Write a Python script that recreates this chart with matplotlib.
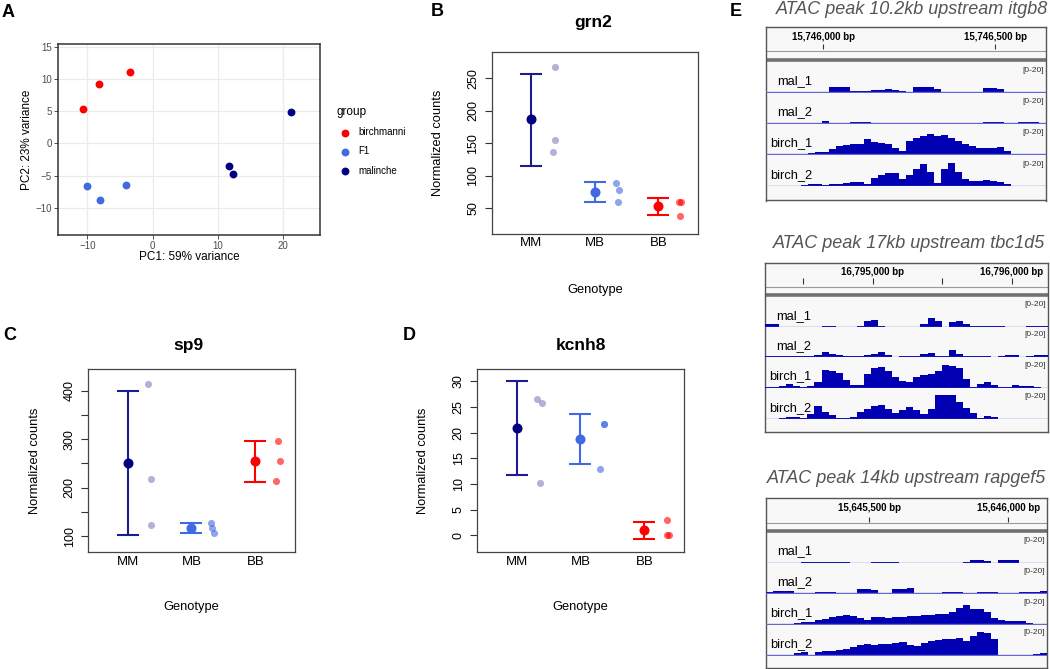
import numpy as np
import matplotlib
matplotlib.use('Agg')
import matplotlib.pyplot as plt

plt.rcParams['font.family'] = ['Liberation Sans', 'DejaVu Sans']

W, H = 1050, 669

# ---------------- panel A: PCA ----------------
groups = ['birchmanni', 'F1', 'malinche']
group_colors = ['#ff0000', '#4169e1', '#000080']
birch_pc1 = [-10.6, -8.2, -3.4]
birch_pc2 = [5.3, 9.2, 11.0]
f1_pc1 = [-10.1, -8.1, -4.0]
f1_pc2 = [-6.55, -8.7, -6.4]
mal_pc1 = [21.2, 11.8, 12.3]
mal_pc2 = [4.9, -3.45, -4.7]

# ---------------- panels B-D: normalized counts ----------------
genotypes = ['MM', 'MB', 'BB']

grn2_mean = [187, 75.5, 53]
grn2_lo = [115.5, 60, 40.5]
grn2_hi = [257, 90.5, 66]
grn2_raw = [[267, 155.5, 136], [89.5, 78.5, 59.5], [60, 60.5, 38]]
grn2_jit = [[0.375, 0.38, 0.34], [0.34, 0.38, 0.36], [0.32, 0.36, 0.34]]

sp9_mean = [251, 116, 255]
sp9_lo = [103, 105.5, 212]
sp9_hi = [400, 127, 297]
sp9_raw = [[414.5, 218, 123], [127, 116.6, 106], [297, 255, 213]]
sp9_jit = [[0.32, 0.36, 0.36], [0.30, 0.32, 0.35], [0.36, 0.38, 0.32]]

kcnh8_mean = [20.8, 18.8, 1.0]
kcnh8_lo = [11.7, 13.8, -0.7]
kcnh8_hi = [30, 23.7, 2.65]
kcnh8_raw = [[26.6, 25.7, 10.2], [21.6, 21.7, 13.0], [2.9, 0.0, 0.0]]
kcnh8_jit = [[0.32, 0.39, 0.37], [0.375, 0.375, 0.31], [0.36, 0.35, 0.39]]

# ---------------- panel E: ATAC coverage (40 bins across each window) ----------------
itgb8_range = (15745833, 15746648)
itgb8_ticks = [15746000, 15746500]
itgb8_labels = [15746000, 15746500]
itgb8_mal1 = [0, 0, 0, 0, 0, 0, 0, 0, 0, 4.4, 4.4, 4.4, 1.5, 0.8, 0.8, 2.2, 2.2, 2.5, 2.0, 1.0,
              0.5, 4.2, 4.4, 4.4, 3.0, 0, 0, 0, 0, 0, 0, 3.5, 3.5, 3.0, 0, 0, 0, 0, 0, 0]
itgb8_mal2 = [0, 0, 0, 0, 0, 0.2, 0.6, 0.6, 1.8, 0.6, 0.4, 0.4, 0.8, 0.8, 0.8, 0.7, 0, 0, 0, 0,
              0, 0, 0, 0, 0, 0, 0, 0, 0, 0, 0, 0.8, 0.8, 0.8, 0.4, 0.2, 0.8, 0.8, 0.8, 0.6]
itgb8_birch1 = [0, 0, 0, 0, 0, 0.5, 1.2, 2.2, 2.4, 4.5, 7.0, 7.5, 8.3, 9.0, 12.5, 10.5, 9.5, 9.0, 5.5, 3.0,
                11.0, 13.5, 15.5, 17.0, 15.0, 16.0, 13.5, 11.5, 8.5, 7.0, 5.5, 5.5, 5.5, 6.0, 3.0, 0, 0, 0, 0, 0]
itgb8_birch2 = [0, 0, 0, 0, 0.4, 0.8, 1.4, 1.4, 1.3, 1.7, 1.7, 2.5, 3.5, 3.3, 1.5, 7.0, 9.5, 11.0, 11.0, 6.0,
                9.5, 14.0, 18.3, 12.0, 3.0, 14.5, 18.8, 12.0, 6.0, 4.4, 4.6, 5.0, 4.4, 3.5, 1.5, 0, 0, 0, 0, 0]

tbc1d5_range = (16794223, 16796260)
tbc1d5_ticks = [16794500, 16795000, 16795500, 16796000]
tbc1d5_labels = [16795000, 16796000]
tbc1d5_mal1 = [2.2, 2.2, 0, 0, 0, 0, 0, 0, 0.6, 0.8, 0, 0, 0, 0.5, 5.0, 5.5, 0.8, 0, 0, 0,
               0, 0, 2.0, 7.5, 4.5, 0, 4.0, 5.0, 2.0, 1.0, 1.0, 1.0, 0.8, 1.0, 0, 0, 0, 0.5, 0.7, 0.3]
tbc1d5_mal2 = [0.8, 0.8, 0.5, 1.0, 0.6, 0.4, 0.8, 1.5, 4.0, 2.5, 1.2, 1.0, 0.3, 0.3, 1.2, 2.5, 4.2, 1.8, 0, 0.5,
               1.0, 0.8, 2.2, 2.8, 0.5, 1.0, 5.5, 2.0, 1.0, 0.8, 0.6, 0.8, 0, 0.3, 1.8, 1.4, 0, 0.3, 1.6, 1.2]
tbc1d5_birch1 = [0.5, 0.5, 1.5, 3.0, 1.0, 0.8, 1.0, 5.0, 14.5, 14.0, 12.5, 6.5, 2.2, 2.5, 11.0, 16.0, 17.0, 13.5, 8.5, 5.5,
                 5.0, 9.0, 10.5, 11.5, 13.5, 18.5, 18.0, 16.0, 7.0, 0.8, 3.0, 5.0, 2.0, 0.6, 0.5, 2.0, 1.6, 1.0, 0.5, 0]
tbc1d5_birch2 = [0, 0, 0.3, 1.9, 1.2, 0.5, 4.0, 11.0, 6.0, 3.0, 0.8, 0.5, 1.5, 5.5, 8.0, 11.0, 11.5, 8.0, 5.0, 7.5,
                 10.0, 7.5, 4.0, 8.0, 20, 20, 20, 14.0, 9.0, 5.0, 0.4, 2.0, 1.6, 0, 0, 0, 0, 0, 0, 0]

rapgef5_range = (15645127, 15646140)
rapgef5_ticks = [15645500, 15646000]
rapgef5_labels = [15645500, 15646000]
rapgef5_mal1 = [0, 0, 0, 0, 0, 0.8, 0.8, 0.6, 0.3, 0.8, 0.8, 0.6, 0, 0, 0, 0.5, 0.8, 0.8, 0.3, 0,
                0, 0, 0, 0, 0, 0, 0, 0, 0.8, 2.2, 2.2, 1.5, 0, 2.0, 2.5, 1.8, 0, 0, 0, 0]
rapgef5_mal2 = [0.8, 1.7, 1.8, 1.7, 0.3, 0, 0, 0.8, 0.8, 0.8, 0.3, 0.3, 0.5, 3.3, 3.3, 3.0, 0.5, 0.5, 3.9, 3.9,
                4.8, 0.5, 0.5, 0.3, 0.5, 1.0, 1.0, 1.2, 0.4, 0.4, 0.8, 0.8, 0.8, 0, 0, 0, 1.2, 1.4, 1.6, 2.2]
rapgef5_birch1 = [0, 0, 0, 0, 0.8, 2.0, 2.4, 3.6, 4.5, 6.0, 7.0, 7.5, 7.0, 5.5, 4.0, 6.2, 6.0, 5.5, 5.8, 6.4,
                  6.8, 7.0, 8.0, 8.0, 8.5, 9.0, 10.5, 13.5, 16.5, 12.5, 12.5, 10.0, 5.5, 3.5, 2.5, 2.8, 2.8, 1.2, 0.3, 0]
rapgef5_birch2 = [0, 0, 0, 0, 2.0, 2.2, 0.5, 2.5, 3.3, 3.3, 4.0, 5.5, 7.0, 8.5, 9.0, 8.5, 9.0, 9.5, 10.0, 10.5,
                  8.5, 8.0, 10.0, 12.0, 12.5, 13.5, 13.5, 14.5, 12.0, 16.0, 19.0, 18.5, 13.0, 0.5, 0.3, 0.3, 0.3, 0.3, 1.2, 1.4]

track_names = ['mal_1', 'mal_2', 'birch_1', 'birch_2']


def rect(l, t, r, b):
    return [l / W, 1 - b / H, (r - l) / W, (b - t) / H]


fig = plt.figure(figsize=(W / 100, H / 100), dpi=100)


def ftext(x, y, s, **kw):
    fig.text(x / W, 1 - y / H, s, **kw)


# ---- panel A ----
axA = fig.add_axes(rect(58, 44, 320, 235))
for xs, ys, g, c in zip([birch_pc1, f1_pc1, mal_pc1], [birch_pc2, f1_pc2, mal_pc2], groups, group_colors):
    axA.scatter(xs, ys, s=32, color=c, lw=0, label=g, zorder=3)
axA.set_xlim(-14.5, 25.7)
axA.set_ylim(-14.2, 15.4)
axA.set_xticks([-10, 0, 10, 20])
axA.set_yticks([-10, -5, 0, 5, 10, 15])
axA.grid(True, color='#ebebeb', lw=0.9)
axA.set_axisbelow(True)
for s in axA.spines.values():
    s.set_color('#333333')
    s.set_linewidth(1.1)
axA.tick_params(length=2.8, width=0.6, color='#333333', labelcolor='#4d4d4d', labelsize=7, pad=1.5)
axA.set_xlabel('PC1: 59% variance', fontsize=8.5, va='center')
axA.set_ylabel('PC2: 23% variance', fontsize=8.5, va='center')
axA.xaxis.set_label_coords(0.5, (235 - 257.3) / 191)
axA.yaxis.set_label_coords((26.7 - 58) / 262, 0.5)
leg = fig.legend(*axA.get_legend_handles_labels(), loc='upper left',
                 bbox_to_anchor=(332 / W, 1 - 101 / H), frameon=False, title='group',
                 fontsize=7, title_fontsize=8.5, alignment='left', handletextpad=0.6,
                 labelspacing=0.95, borderpad=0, handlelength=1.6, markerscale=1.0)

# ---- panels B-D ----
mean_colors = ['#000080', '#4169e1', '#ff0000']
bar_colors = ['#1b1b96', '#4169e1', '#ff0000']
raw_alpha = [0.3, 0.6, 0.6]


def gene_panel(box, ylim, yticks, yticklabels, name, title_xy, xlab_y, ylab_x,
               means, lo, hi, raw, jit):
    ax = fig.add_axes(rect(*box))
    for i in range(3):
        x = i + 1
        ax.errorbar([x], [means[i]], yerr=[[means[i] - lo[i]], [hi[i] - means[i]]], fmt='o',
                    color=bar_colors[i], mfc=mean_colors[i], mec=mean_colors[i], ms=6.2,
                    capsize=7.8, elinewidth=1.5, capthick=1.5, zorder=3)
        ax.scatter([x + j for j in jit[i]], raw[i], s=26, color=mean_colors[i],
                   alpha=raw_alpha[i], lw=0, zorder=2)
    ax.set_xlim(0.385, 3.62)
    ax.set_ylim(*ylim)
    ax.set_xticks([1, 2, 3])
    ax.set_xticklabels(genotypes)
    ax.set_yticks(yticks)
    ax.set_yticklabels(yticklabels)
    for lab in ax.get_yticklabels():
        lab.set_rotation(90)
        lab.set_va('center')
    ax.tick_params(axis='x', length=0, pad=2.5, labelsize=9.5)
    ax.tick_params(axis='y', length=5, width=0.8, color='#333333', pad=4, labelsize=9)
    for s in ax.spines.values():
        s.set_color('#444444')
        s.set_linewidth(0.9)
    l, t, r, b = box
    ax.set_xlabel('Genotype', fontsize=9.3, va='center')
    ax.xaxis.set_label_coords(0.5, (b - xlab_y) / (b - t))
    ax.set_ylabel('Normalized counts', fontsize=9.3, va='center')
    ax.yaxis.set_label_coords((ylab_x - l) / (r - l), 0.5)
    ftext(title_xy[0], title_xy[1], name, fontsize=12.5, weight='bold', ha='center', va='center')
    return ax


gene_panel((491.7, 51.7, 698, 234), (10.5, 291), [50, 100, 150, 200, 250],
           ['50', '100', '150', '200', '250'], 'grn2', (593, 22), 290, 438,
           grn2_mean, grn2_lo, grn2_hi, grn2_raw, grn2_jit)
gene_panel((88.3, 369.3, 295, 552.3), (66.4, 444), [100, 150, 200, 250, 300, 350, 400],
           ['100', '', '200', '', '300', '', '400'], 'sp9', (188, 345), 606.7, 35,
           sp9_mean, sp9_lo, sp9_hi, sp9_raw, sp9_jit)
gene_panel((477.3, 369.3, 684, 552.3), (-3.3, 32.3), [0, 5, 10, 15, 20, 25, 30],
           ['0', '5', '10', '15', '20', '25', '30'], 'kcnh8', (581, 345), 606.7, 423,
           kcnh8_mean, kcnh8_lo, kcnh8_hi, kcnh8_raw, kcnh8_jit)

# ---- panel E ----
IGV_BLUE = '#0000b2'


def atac_panel(box, title, title_xy, grange, ticks, labels, label_y, tick_y, thin_y, bar_y,
               baselines, tracks):
    l, t, r, b = box
    bx = fig.add_axes(rect(l, t, r, b))
    bx.set_facecolor('#f8f8f8')
    bx.set_xlim(*grange)
    bx.set_ylim(b, t)
    bx.set_xticks([])
    bx.set_yticks([])
    for s in bx.spines.values():
        s.set_color('#555555')
        s.set_linewidth(1.0)
    bx.vlines(ticks, tick_y[0], tick_y[1], color='#333333', lw=0.8)
    for p in labels:
        bx.text(p, label_y, f'{p:,} bp', ha='center', va='center', fontsize=7, weight='bold')
    bx.axhline(thin_y, color='#9a9a9a', lw=0.8)
    bx.axhline(bar_y, color='#707070', lw=2.6)
    ftext(title_xy[0], title_xy[1], title, fontsize=13, style='italic', color='#555555',
          ha='center', va='center')
    for name, base, vals in zip(track_names, baselines, tracks):
        ta = fig.add_axes(rect(l, base - 30.7, r, base + 0.5))
        ta.patch.set_alpha(0)
        edges = np.linspace(grange[0], grange[1], len(vals) + 1)
        ta.stairs(vals, edges, fill=True, color=IGV_BLUE, lw=0)
        ta.axhline(0, color='#6464d6', lw=1.0)
        ta.set_xlim(*grange)
        ta.set_ylim(-0.3, 25.6)
        ta.axis('off')
        lx = l + 11 if name.startswith('mal') else l + 4
        ftext(lx, base - 11, name, fontsize=9.3, ha='left', va='center')
        ftext(r - 2, base - 22, '[0-20]', fontsize=6, ha='right', va='center', color='#333333')


atac_panel((765.7, 27.3, 1046, 200.5), 'ATAC peak 10.2kb upstream itgb8', (912, 10),
           itgb8_range, itgb8_ticks, itgb8_labels, 36.7, (44, 49.3), 50.7, 60.2,
           [92.3, 123.3, 154.3, 186], [itgb8_mal1, itgb8_mal2, itgb8_birch1, itgb8_birch2])
atac_panel((765, 262.7, 1047.7, 431.7), 'ATAC peak 17kb upstream tbc1d5', (909, 243.3),
           tbc1d5_range, tbc1d5_ticks, tbc1d5_labels, 272.3, (278, 284.3), 286.7, 295,
           [326.7, 356.7, 387.5, 418.7], [tbc1d5_mal1, tbc1d5_mal2, tbc1d5_birch1, tbc1d5_birch2])
atac_panel((765.7, 498.3, 1047.3, 668.3), 'ATAC peak 14kb upstream rapgef5', (906.7, 478.3),
           rapgef5_range, rapgef5_ticks, rapgef5_labels, 508.3, (517, 522.3), 523.3, 531,
           [562.5, 593.3, 624.3, 655], [rapgef5_mal1, rapgef5_mal2, rapgef5_birch1, rapgef5_birch2])

# panel letters
for letter, x, y in [('A', 8, 12.5), ('B', 437.5, 12), ('C', 10, 335.5), ('D', 409.5, 335),
                     ('E', 736, 12)]:
    ftext(x, y, letter, fontsize=13, weight='bold', ha='center', va='center')

fig.savefig('out.png', dpi=100)
